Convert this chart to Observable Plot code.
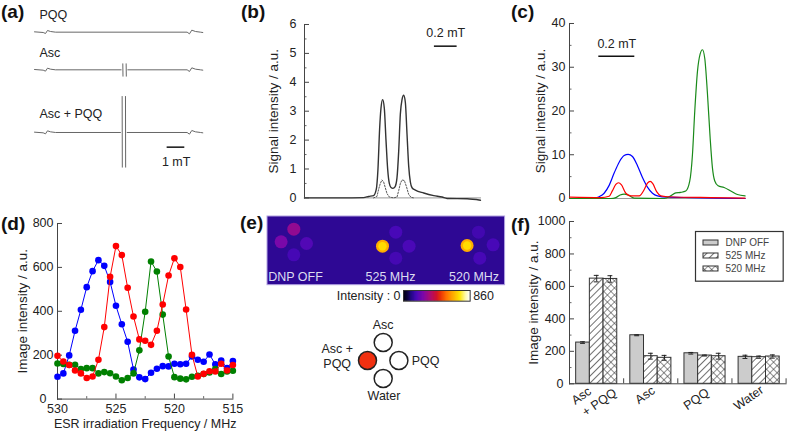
<!DOCTYPE html>
<html><head><meta charset="utf-8">
<script src="https://cdn.jsdelivr.net/npm/d3@7"></script>
<script src="https://cdn.jsdelivr.net/npm/@observablehq/plot@0.6"></script>
<style>
html,body{margin:0;background:#fff}
#chart{position:relative;width:787px;height:432px;overflow:hidden;font-family:"Liberation Sans",Arial,sans-serif;color:#222}
#chart svg{overflow:visible;background:transparent}
.tag{position:absolute;font-weight:bold;font-size:19px;line-height:20px;color:#111}
</style></head><body><div id="chart"></div>
<script>
// ---------- panel (a): ESR traces ----------
const aFieldPQQ = [102,128,135,141,150,165,560,567,574,585,600,607];
const aDevPQQ   = [1,-1,-4,5,2,0,0,-5,6,2,0,-1];
const aFieldAsc = [102,128,135,141,150,165,362,363,367,367.5,368,377,377.5,378,382,560,567,574,585,600,607];
const aDevAsc   = [1,-1,-4,5,2,0,0,NaN,18,-19,NaN,18,-19,NaN,0,0,-5,6,2,0,-1];
const aFieldBoth = [102,128,135,141,150,165,360,361,365,365.5,366,375,375.5,376,380,560,567,574,585,600,607];
const aDevBoth   = [1,-1,-4,5,2,0,0,NaN,108,-104,NaN,108,-104,NaN,0,0,-5,6,2,0,-1];
// ---------- panel (b) ----------
const bChan = [0,107,177,192,207,215,220,225,229,234,239,244,249,254,259,265,271,277,282,287,292,297,302,307,312,317,322,332,357,387,412,427,487,527];
const bSolid = [0,0,0.01,0.05,0.08,0.3,1.0,2.4,3.1,3.4,3.1,2.0,1.0,0.5,0.36,0.33,0.38,0.7,1.6,2.9,3.4,3.55,3.3,2.2,1.1,0.55,0.35,0.27,0.17,0.08,0.03,-0.02,-0.03,-0.08];
const bDotChan = [207,217,222,227,232,237,242,247,254,267,277,282,287,292,299,305,312,319,327];
const bDotted = [0,0.05,0.3,0.5,0.62,0.55,0.35,0.15,0.03,0,0.03,0.25,0.5,0.62,0.6,0.4,0.12,0.02,0];
// ---------- panel (c) ----------
const cBlueChan = [0,74,89,104,119,134,149,164,176,189,204,219,234,249,264,294,374,444,527];
const cBlue = [0,0.05,0.4,1.2,3,5.8,8.3,9.8,10.1,9.6,7.5,4.8,2.6,1.2,0.6,0.3,0.2,0.1,0];
const cRedChan = [0,94,119,129,139,147,156,169,184,209,224,234,242,250,262,274,294,424,527];
const cRed = [0.3,0.2,0.5,1.8,3.2,3.6,3.1,1.2,0.6,0.6,2,3.5,3.9,3.4,1.5,0.6,0.4,0.2,0.1];
const cGreenChan = [0,124,139,152,164,176,194,284,304,319,334,349,361,369,376,384,392,399,406,414,422,429,436,446,464,484,504,527];
const cGreen = [0,0,0.2,0.8,1,0.8,0.1,0,0.6,1.3,1.4,1.7,4,10,20,29,33,34,32,24,14,7,4,2.9,2.5,1.7,0.9,0.6];
// ---------- panel (d) ----------
const dFreq = [530,529.5,529,528.5,528,527.5,527,526.5,526,525.5,525,524.5,524,523.5,523,522.5,522,521.5,521,520.5,520,519.5,519,518.5,518,517.5,517,516.5,516,515.5,515];
const dBlue = [102,117,199,311,407,510,583,633,607,534,425,341,261,135,99,91,120,138,150,149,161,159,161,194,179,170,203,158,176,141,173];
const dGreen = [162,160,156,156,137,141,141,117,123,118,103,86,96,117,222,398,627,581,385,194,100,93,90,102,106,114,121,137,114,126,129];
const dRed = [197,171,155,130,117,96,103,179,328,557,697,656,507,376,272,266,247,311,431,563,642,602,408,202,103,115,127,126,161,130,155];
// ---------- panel (e) ----------
const eWells = ["Asc + PQQ","Asc","PQQ","Water"];
const eSpotX = [13.6,26.3,39,26.3, 115,128.3,141.6,128.3, 199.6,211,225.6,212.3];
const eSpotY = [25.3,12.7,27,38.3, 29.7,15.7,29.7,41.7, 29,15.7,28.3,41.7];
const eSpotV = [254,299,188,166, 648,170,174,164, 646,160,170,168];
const eCaptions = ["DNP OFF","525 MHz","520 MHz"];
const eCaptionX = [28,123,206.6];
const eBackground = 125;
const colourStops = [0,60,100,170,260,340,430,480,560,640,730,800,860];
const colourRamp = ["#000008","#0c0440","#200880","#4808b8","#7c08a8","#a80c78","#d01030","#e83008","#ff7000","#ffa800","#ffe400","#fff8a0","#ffffff"];
const wellX = [-1,0,1,0];
const wellY = [0,1,0,-1];
const wellFill = ["#f03010","#fff","#fff","#fff"];
const wellText = ["Asc +\nPQQ","Asc","PQQ","Water"];
const wellTextX = [-2.93,0,2.7,0.05];
const wellTextY = [0.28,2.04,0.03,-1.9];
// ---------- panel (f) ----------
const fGroups = ["Asc + PQQ","Asc","PQQ","Water"];
const fSeries = ["DNP OFF","525 MHz","520 MHz"];
const fValues = [[254,299,188,166],[648,170,174,164],[646,160,170,168]];
const fErrors = [[5,3,5,10],[20,18,3,7],[20,15,18,10]];
const fFills = ["#cccccc","url(#hatchF)","url(#crossF)"];
const fTickText = ["Asc","+ PQQ","Asc","PQQ","Water"];
const fTickX = [0.22,0.55,1.395,2.34,3.31];
const fTickY = [-74,-115,-70,-95,-88];

// ---------- helpers ----------
const chart = document.getElementById("chart");
const baseStyle = {fontFamily:'"Liberation Sans",Arial,sans-serif',fontSize:"12.5px",color:"#222",background:"transparent",overflow:"visible"};
function place(x0,x1,yT,yB,opts,m=[4,4,4,4]){
  const [T,R,B,L]=m;
  const p = Plot.plot({width:x1-x0+L+R,height:yB-yT+T+B,marginTop:T,marginRight:R,marginBottom:B,marginLeft:L,style:baseStyle,...opts});
  p.style.position="absolute";p.style.left=(x0-L)+"px";p.style.top=(yT-T)+"px";
  chart.append(p);return p;
}
function tag(t,x,y){const s=document.createElement("div");s.className="tag";s.textContent=t;s.style.left=x+"px";s.style.top=y+"px";chart.append(s);}
const zipXY=(xs,ys)=>xs.map((x,i)=>({x,y:ys[i]}));
function axisMarks({yTicks,yMinor=[],xTicks=[],xMinor=[],yTitle,xTitle,yDist,xDist,xLine="#999",yFmt="d",xFmt="d",tickLen=5,pad=4,zeroPad=null}){
  const nz = zeroPad===null?yTicks:yTicks.filter(t=>t!==0);
  return [
    Plot.axisY({ticks:yTicks,tickSize:-tickLen,text:null,label:null,stroke:"#444"}),
    yMinor.length?Plot.axisY({ticks:yMinor,tickSize:-2.5,text:null,label:null,stroke:"#666"}):null,
    Plot.axisY({ticks:nz,tickSize:0,tickPadding:pad,tickFormat:yFmt,label:null}),
    zeroPad===null?null:Plot.axisY({ticks:[0],tickSize:0,tickPadding:zeroPad,tickFormat:yFmt,label:null}),
    Plot.text([yTitle],{frameAnchor:"left",textAnchor:"middle",lineAnchor:"middle",dx:-yDist,rotate:-90,fontSize:13.5}),
    xTicks.length?Plot.axisX({ticks:xTicks,tickSize:-tickLen,text:null,label:null,stroke:"#444"}):Plot.axisX({ticks:[],tickSize:0,label:null}),
    xMinor.length?Plot.axisX({ticks:xMinor,tickSize:-2.5,text:null,label:null,stroke:"#666"}):null,
    xTitle?Plot.axisX({ticks:xTicks,tickSize:0,tickPadding:5,tickFormat:xFmt,label:null}):null,
    xTitle?Plot.text([xTitle],{frameAnchor:"bottom",lineAnchor:"middle",dy:xDist,fontSize:12.5}):null,
    Plot.frame({anchor:"left",stroke:"#444"}),
    Plot.frame({anchor:"bottom",stroke:xLine})
  ];
}

// ---------- (a) ----------
tag("(a)",1,2);
place(34,202.3,0,180,{
  x:{domain:[102,607],axis:null},
  y:{domain:[0,540],axis:null},
  marks:[
    Plot.line(zipXY(aFieldPQQ,aDevPQQ),{x:"x",y:d=>445+d.y,stroke:"#666",strokeWidth:1}),
    Plot.line(zipXY(aFieldAsc,aDevAsc),{x:"x",y:d=>332+d.y,stroke:"#666",strokeWidth:1}),
    Plot.line(zipXY(aFieldBoth,aDevBoth),{x:"x",y:d=>144+d.y,stroke:"#666",strokeWidth:1}),
    Plot.text(["PQQ"],{x:117,y:496,textAnchor:"start"}),
    Plot.text(["Asc"],{x:117,y:382,textAnchor:"start"}),
    Plot.text(["Asc + PQQ"],{x:117,y:198,textAnchor:"start"}),
    Plot.ruleY([100],{x1:500,x2:553,stroke:"#111",strokeWidth:1.5}),
    Plot.text(["1 mT"],{x:527,y:56})
  ]
},[0,30,0,34]);

// ---------- (b) ----------
tag("(b)",241,2);
place(304,480,24.3,197.7,{
  x:{domain:[0,527],axis:null},
  y:{domain:[0,6]},
  marks:[
    ...axisMarks({yTicks:[0,1,2,3,4,5,6],yMinor:[0.5,1.5,2.5,3.5,4.5,5.5],yTitle:"Signal intensity / a.u.",yDist:31,pad:8}),
    Plot.line(zipXY(bDotChan,bDotted),{x:"x",y:"y",stroke:"#555",strokeWidth:1,strokeDasharray:"1.5,1.5"}),
    Plot.line(zipXY(bChan,bSolid),{x:"x",y:"y",stroke:"#333",strokeWidth:1.4,curve:"monotone-x"}),
    Plot.ruleY([5.25],{x1:389,x2:457,stroke:"#111",strokeWidth:1.5}),
    Plot.text(["0.2 mT"],{x:423,y:5.72})
  ]
},[12,10,14,54]);

// ---------- (c) ----------
tag("(c)",511,2);
place(568.7,744.3,23,198,{
  x:{domain:[0,527],axis:null},
  y:{domain:[0,40]},
  marks:[
    ...axisMarks({yTicks:[0,10,20,30,40],yMinor:[5,15,25,35],yTitle:"Signal intensity / a.u.",yDist:28.7}),
    Plot.line(zipXY(cBlueChan,cBlue),{x:"x",y:"y",stroke:"#0000ff",strokeWidth:1.2,curve:"monotone-x"}),
    Plot.line(zipXY(cGreenChan,cGreen),{x:"x",y:"y",stroke:"#1a8a1a",strokeWidth:1.2,curve:"monotone-x"}),
    Plot.line(zipXY(cRedChan,cRed),{x:"x",y:"y",stroke:"#ff0000",strokeWidth:1.2,curve:"monotone-x"}),
    Plot.ruleY([32.5],{x1:88,x2:196,stroke:"#111",strokeWidth:1.5}),
    Plot.text(["0.2 mT"],{x:142,y:35.4})
  ]
},[10,10,14,50]);

// ---------- (d) ----------
tag("(d)",1,214);
place(57.3,232.7,222.7,398.3,{
  x:{domain:[530,515]},
  y:{domain:[0,800]},
  marks:[
    ...axisMarks({yTicks:[0,200,400,600,800],zeroPad:11,xTicks:[530,525,520,515],xMinor:[527.5,522.5,517.5],yTitle:"Image intensity / a.u.",yDist:34.6,xTitle:"ESR irradiation Frequency / MHz",xDist:24.7,xLine:"#444"}),
    Plot.line(dFreq,{x:d=>d,y:(d,i)=>dBlue[i],stroke:"#0000ff",strokeWidth:1}),
    Plot.dot(dFreq,{x:d=>d,y:(d,i)=>dBlue[i],fill:"#0000ff",r:3.3}),
    Plot.line(dFreq,{x:d=>d,y:(d,i)=>dGreen[i],stroke:"#008000",strokeWidth:1}),
    Plot.dot(dFreq,{x:d=>d,y:(d,i)=>dGreen[i],fill:"#008000",r:3.3}),
    Plot.line(dFreq,{x:d=>d,y:(d,i)=>dRed[i],stroke:"#ff0000",strokeWidth:1}),
    Plot.dot(dFreq,{x:d=>d,y:(d,i)=>dRed[i],fill:"#ff0000",r:3.3})
  ]
},[10,14,34,50]);

// ---------- (e) ----------
tag("(e)",240,213);
const colourRampScale = d3.scaleLinear(colourStops,colourRamp);
const colourScale = {type:"linear",domain:[0,860],interpolate:t=>colourRampScale(t*860),clamp:true};
place(266.7,504.3,216,284.7,{
  x:{domain:[0,237.6],axis:null},
  y:{domain:[68.7,0],axis:null},
  color:colourScale,
  marks:[
    Plot.rect([eBackground],{x1:0,x2:237.6,y1:0,y2:68.7,fill:d=>d,stroke:"#b0a0e0"}),
    Plot.dot(eSpotV,{x:(d,i)=>eSpotX[i],y:(d,i)=>eSpotY[i],fill:d=>d,r:6.5}),
    Plot.dot(eSpotV.filter(v=>v>400),{x:(d,i)=>eSpotX[[4,8][i]],y:(d,i)=>eSpotY[[4,8][i]],fill:d=>d+70,r:4.2}),
    Plot.text(eCaptions,{x:(d,i)=>eCaptionX[i],y:60.5,fill:"#dcdcf0",fontSize:12.5})
  ]
});
place(403.3,470,290,300.7,{
  x:{domain:[0,860],axis:null},
  y:{domain:[0,1],axis:null},
  color:colourScale,
  marks:[
    Plot.rect(d3.range(0,860,10),{x1:d=>d,x2:d=>Math.min(d+22,860),y1:0,y2:1,fill:d=>d+5}),
    Plot.frame({stroke:"#333"}),
    Plot.text(["Intensity : 0"],{x:0,y:0.5,dx:-3,textAnchor:"end",fontSize:12.5}),
    Plot.text(["860"],{x:860,y:0.5,dx:3,textAnchor:"start",fontSize:12.5})
  ]
},[2,40,2,90]);
place(366.8,398.2,342,378,{
  x:{domain:[-1,1],axis:null},
  y:{domain:[-1,1],axis:null},
  marks:[
    Plot.dot(eWells,{x:(d,i)=>wellX[i],y:(d,i)=>wellY[i],r:9,fill:(d,i)=>wellFill[i],stroke:"#222",strokeWidth:1.5}),
    Plot.text(wellText,{x:(d,i)=>wellTextX[i],y:(d,i)=>wellTextY[i],fontSize:12.5,lineHeight:1.23})
  ]
},[25,50,25,50]);

// ---------- (f) ----------
tag("(f)",511,215);
const fRows = fSeries.flatMap((s,k)=>fGroups.map((g,i)=>({k,i,v:fValues[k][i],e:fErrors[k][i]})));
const slotLeft = d=>d.i+0.123+d.k*0.253, slotRight = d=>slotLeft(d)+0.253, slotMid = d=>slotLeft(d)+0.1265;
const patterns = ()=>{
  const g=d3.create("svg:g");
  g.html(`<defs>
  <pattern id="hatchF" patternUnits="userSpaceOnUse" width="5" height="5" patternTransform="rotate(45)"><rect width="5" height="5" fill="#fff"/><line x1="0" y1="0" x2="0" y2="5" stroke="#333" stroke-width="1.4"/></pattern>
  <pattern id="crossF" patternUnits="userSpaceOnUse" width="5" height="5" patternTransform="rotate(45)"><rect width="5" height="5" fill="#fff"/><line x1="0" y1="0" x2="0" y2="5" stroke="#333" stroke-width="1.1"/><line x1="0" y1="0" x2="5" y2="0" stroke="#333" stroke-width="1.1"/></pattern>
  </defs>`);
  return g.node();
};
place(568.7,785.3,220.7,383,{
  x:{domain:[0,4]},
  y:{domain:[0,1000]},
  marks:[
    patterns,
    ...axisMarks({yTicks:[0,200,400,600,800,1000],zeroPad:6,yMinor:[100,300,500,700,900],xTicks:[0,1,2,3,4],yTitle:"Image intensity / a.u.",yDist:36,xLine:"#444"}),
    Plot.rectY(fRows,{x1:slotLeft,x2:slotRight,y1:0,y2:"v",fill:d=>fFills[d.k],stroke:"#333",strokeWidth:1}),
    Plot.ruleX(fRows,{x:slotMid,y1:d=>d.v-d.e,y2:d=>d.v+d.e,stroke:"#222"}),
    Plot.ruleY(fRows,{y:d=>d.v+d.e,x1:d=>slotMid(d)-0.045,x2:d=>slotMid(d)+0.045,stroke:"#222"}),
    Plot.ruleY(fRows,{y:d=>d.v-d.e,x1:d=>slotMid(d)-0.045,x2:d=>slotMid(d)+0.045,stroke:"#222"}),
    Plot.text(fTickText,{x:(d,i)=>fTickX[i],y:(d,i)=>fTickY[i],rotate:-35,fontSize:12.5})
  ],
  color:{type:"identity"}
},[8,1.5,45,50]);
place(695,782.7,231,280.7,{
  x:{domain:[0,87.7],axis:null},
  y:{domain:fSeries,axis:null,padding:0.58,align:0.5},
  color:{type:"identity"},
  marks:[
    Plot.frame({stroke:"#333",strokeWidth:1.2,fill:"#fff"}),
    Plot.barX(fSeries,{y:d=>d,x1:8,x2:23,fill:(d,i)=>fFills[i],stroke:"#333"}),
    Plot.text(fSeries,{x:30,y:d=>d,textAnchor:"start",fontSize:10,fill:"#444"})
  ]
},[1,1,1,1]);
</script></body></html>
